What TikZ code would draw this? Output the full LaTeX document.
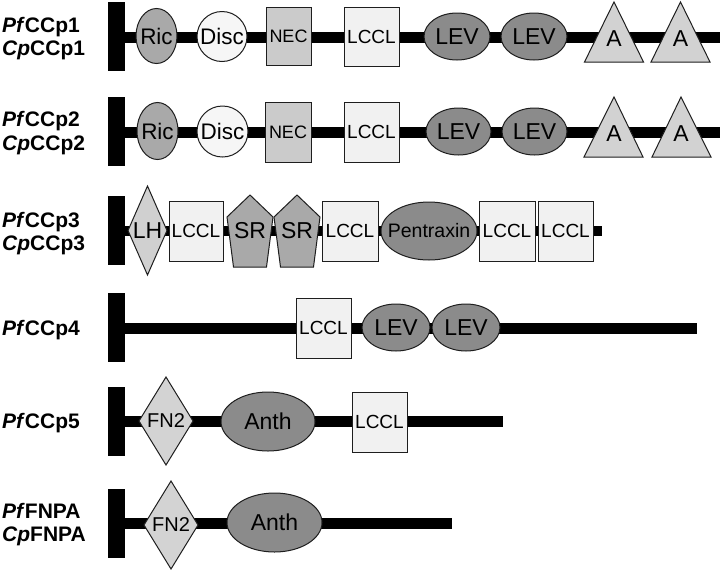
\documentclass[tikz,border=0pt]{standalone}
\usepackage{fontspec}
\setmainfont{Liberation Sans}
\usetikzlibrary{shapes.geometric}
\definecolor{cRic}{HTML}{A9A9A9}
\definecolor{cDisc}{HTML}{F6F6F6}
\definecolor{cNEC}{HTML}{CBCBCB}
\definecolor{cLCCL}{HTML}{F1F1F1}
\definecolor{cLEV}{HTML}{8B8B8B}
\definecolor{cA}{HTML}{D2D2D2}
\definecolor{cLH}{HTML}{D0D0D0}
\definecolor{cSR}{HTML}{A9A9A9}
\definecolor{cFN}{HTML}{D3D3D3}
\definecolor{cEdge}{HTML}{1E1E1E}
\begin{document}
\begin{tikzpicture}[x=1pt,y=-1pt,
  bar/.style={rectangle,fill=black,draw=none,minimum width=17pt,minimum height=69pt,inner sep=0pt},
  stalk/.style={line width=11pt,draw=black},
  dom/.style={draw=cEdge,line width=1pt,inner sep=0pt,outer sep=0pt},
  boxd/.style={dom,rectangle},
  ell/.style={dom,ellipse},
  dia/.style={dom,diamond},
  txt/.style={inner sep=0pt,text=black},
  lab/.style={inner sep=0pt,anchor=base west,font=\bfseries\fontsize{21}{24}\selectfont},
  fA/.style={txt,font=\fontsize{22.5}{24}\selectfont},
  fB/.style={txt,font=\fontsize{19}{20}\selectfont},
  fC/.style={txt,font=\fontsize{23}{24}\selectfont},
]
\useasboundingbox (0,0) rectangle (720,571);

%% ---------- Row 1 ----------
\node[lab] (p1a) at (2,32) {\textit{Pf}CCp1};
\node[lab] (p1b) at (2,55) {\textit{Cp}CCp1};
\node[bar] (b1) at (116.5,36.5) {};
\coordinate (e1) at (720,37);
\draw[stalk] (b1.center |- e1) -- (e1);
\node[ell,fill=cRic,minimum width=41pt,minimum height=55pt] (ric1) at (156.5,36) {};
\node[fA] (ric1t) at (ric1) {Ric};
\node[dom,circle,fill=cDisc,minimum size=50pt] (disc1) at (222,36.5) {};
\node[fA] (disc1t) at (disc1) {Disc};
\node[boxd,fill=cNEC,minimum width=45pt,minimum height=58pt] (nec1) at (288.5,36.5) {};
\node[fB,font=\fontsize{18}{20}\selectfont] (nec1t) at (nec1) {NEC};
\node[boxd,fill=cLCCL,minimum width=55pt,minimum height=59pt] (lc1) at (371.5,36.5) {};
\node[fB] (lc1t) at (lc1) {LCCL};
\node[ell,fill=cLEV,minimum width=66pt,minimum height=47pt] (lev1a) at (457,36.5) {};
\node[fC] (lev1at) at (lev1a) {LEV};
\node[ell,fill=cLEV,minimum width=66pt,minimum height=47pt] (lev1b) at (534,36.5) {};
\node[fC] (lev1bt) at (lev1b) {LEV};
\draw[dom,fill=cA] (614,2) -- (643.5,62) -- (584.5,62) -- cycle;
\node[fC] (a1at) at (614,38.5) {A};
\draw[dom,fill=cA] (680.5,2) -- (710,62) -- (651,62) -- cycle;
\node[fC] (a1bt) at (680.5,38.5) {A};

%% ---------- Row 2 ----------
\node[lab] (p2a) at (2,126.5) {\textit{Pf}CCp2};
\node[lab] (p2b) at (2,150) {\textit{Cp}CCp2};
\node[bar] (b2) at (116.5,131.5) {};
\coordinate (e2) at (720,132);
\draw[stalk] (b2.center |- e2) -- (e2);
\node[ell,fill=cRic,minimum width=41pt,minimum height=57pt] (ric2) at (157.5,131) {};
\node[fA] (ric2t) at (ric2) {Ric};
\node[dom,circle,fill=cDisc,minimum size=51pt] (disc2) at (222.5,131.5) {};
\node[fA] (disc2t) at (disc2) {Disc};
\node[boxd,fill=cNEC,minimum width=46pt,minimum height=60pt] (nec2) at (288,132) {};
\node[fB,font=\fontsize{18}{20}\selectfont] (nec2t) at (nec2) {NEC};
\node[boxd,fill=cLCCL,minimum width=55pt,minimum height=60pt] (lc2) at (371.5,132) {};
\node[fB] (lc2t) at (lc2) {LCCL};
\node[ell,fill=cLEV,minimum width=65pt,minimum height=47pt] (lev2a) at (458.5,131.5) {};
\node[fC] (lev2at) at (lev2a) {LEV};
\node[ell,fill=cLEV,minimum width=65pt,minimum height=47pt] (lev2b) at (534.5,131.5) {};
\node[fC] (lev2bt) at (lev2b) {LEV};
\draw[dom,fill=cA] (614,97) -- (643,157) -- (584,157) -- cycle;
\node[fC] (a2at) at (614,133.5) {A};
\draw[dom,fill=cA] (681,97) -- (711,157) -- (652,157) -- cycle;
\node[fC] (a2bt) at (681,133.5) {A};

%% ---------- Row 3 ----------
\node[lab] (p3a) at (2,227) {\textit{Pf}CCp3};
\node[lab] (p3b) at (2,250) {\textit{Cp}CCp3};
\node[bar] (b3) at (116.5,230) {};
\coordinate (e3) at (602,230.5);
\draw[stalk,line width=10pt] (b3.center |- e3) -- (e3);
\node[dia,fill=cLH,minimum width=39pt,minimum height=89pt] (lh3) at (147.5,230.5) {};
\node[fC] (lh3t) at (lh3) {LH};
\node[boxd,fill=cLCCL,minimum width=54pt,minimum height=60pt] (lc3a) at (196,231) {};
\node[fB] (lc3at) at (lc3a) {LCCL};
\draw[dom,fill=cSR] (250,195) -- (273,217) -- (266.5,267) -- (233.5,267) -- (227,217) -- cycle;
\node[fC] (sr3at) at (250,231) {SR};
\draw[dom,fill=cSR] (297,195) -- (320,217) -- (313.5,267) -- (280.5,267) -- (274,217) -- cycle;
\node[fC] (sr3bt) at (297,231) {SR};
\node[boxd,fill=cLCCL,minimum width=56pt,minimum height=60pt] (lc3b) at (350,231) {};
\node[fB] (lc3bt) at (lc3b) {LCCL};
\node[ell,fill=cLEV,minimum width=96pt,minimum height=58pt] (pen3) at (429,231) {};
\node[txt,font=\fontsize{19.5}{20}\selectfont] (pen3t) at (pen3) {Pentraxin};
\node[boxd,fill=cLCCL,minimum width=56pt,minimum height=60pt] (lc3c) at (507,231) {};
\node[fB] (lc3ct) at (lc3c) {LCCL};
\node[boxd,fill=cLCCL,minimum width=55pt,minimum height=60pt] (lc3d) at (565.5,231) {};
\node[fB] (lc3dt) at (lc3d) {LCCL};

%% ---------- Row 4 ----------
\node[lab] (p4a) at (2,335) {\textit{Pf}CCp4};
\node[bar] (b4) at (116.5,327.5) {};
\coordinate (e4) at (697,328);
\draw[stalk] (b4.center |- e4) -- (e4);
\node[boxd,fill=cLCCL,minimum width=55pt,minimum height=60pt] (lc4) at (323.5,328) {};
\node[fB] (lc4t) at (lc4) {LCCL};
\node[ell,fill=cLEV,minimum width=68pt,minimum height=47pt] (lev4a) at (396,327.5) {};
\node[fC] (lev4at) at (lev4a) {LEV};
\node[ell,fill=cLEV,minimum width=68pt,minimum height=47pt] (lev4b) at (466,327.5) {};
\node[fC] (lev4bt) at (lev4b) {LEV};

%% ---------- Row 5 ----------
\node[lab] (p5a) at (2,428.5) {\textit{Pf}CCp5};
\node[bar] (b5) at (116.5,421.5) {};
\coordinate (e5) at (503,421.5);
\draw[stalk] (b5.center |- e5) -- (e5);
\node[dia,fill=cFN,minimum width=54pt,minimum height=88pt] (fn5) at (166,421) {};
\node[txt,font=\fontsize{20}{20}\selectfont] (fn5t) at (fn5) {FN2};
\node[ell,fill=cLEV,minimum width=94pt,minimum height=59pt] (an5) at (268,421.5) {};
\node[fC] (an5t) at (an5) {Anth};
\node[boxd,fill=cLCCL,minimum width=55pt,minimum height=60pt] (lc5) at (379.5,422) {};
\node[fB] (lc5t) at (lc5) {LCCL};

%% ---------- Row 6 ----------
\node[lab] (p6a) at (2,518.5) {\textit{Pf}FNPA};
\node[lab] (p6b) at (2,541.5) {\textit{Cp}FNPA};
\node[bar] (b6) at (116.5,523.5) {};
\coordinate (e6) at (452,523);
\draw[stalk] (b6.center |- e6) -- (e6);
\node[dia,fill=cFN,minimum width=54pt,minimum height=88pt] (fn6) at (171,525) {};
\node[txt,font=\fontsize{20}{20}\selectfont] (fn6t) at (fn6) {FN2};
\node[ell,fill=cLEV,minimum width=95pt,minimum height=59pt] (an6) at (274.5,522.5) {};
\node[fC] (an6t) at (an6) {Anth};
\end{tikzpicture}
\end{document}
